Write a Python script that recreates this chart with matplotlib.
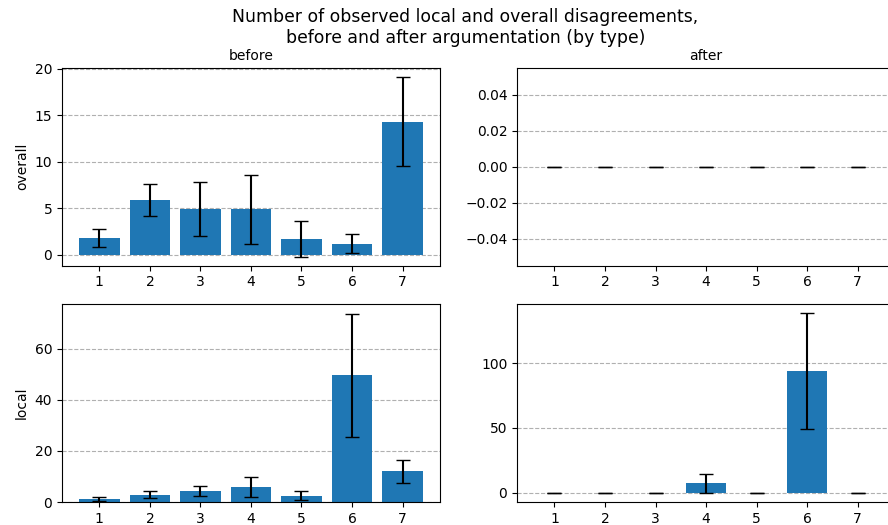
import matplotlib
matplotlib.use("Agg")
import matplotlib.pyplot as plt

types = [1, 2, 3, 4, 5, 6, 7]

overall_before = [1.8, 5.9, 4.9, 4.9, 1.7, 1.2, 14.3]
overall_before_err = [1.0, 1.75, 2.9, 3.7, 1.9, 1.0, 4.8]
overall_after = [0, 0, 0, 0, 0, 0, 0]
overall_after_err = [0, 0, 0, 0, 0, 0, 0]

local_before = [1.0, 2.9, 4.3, 5.9, 2.5, 49.6, 11.95]
local_before_err = [0.8, 1.5, 2.1, 3.9, 1.9, 24.0, 4.55]
local_after = [0, 0, 0, 7.2, 0, 93.8, 0]
local_after_err = [0, 0, 0, 7.5, 0, 44.7, 0]

fig, axes = plt.subplots(2, 2, figsize=(8.88, 5.25), dpi=100)
fig.subplots_adjust(left=0.0698, right=1.0079, top=0.8705, bottom=0.0438,
                    wspace=0.204, hspace=0.197)

panels = [
    (axes[0, 0], overall_before, overall_before_err),
    (axes[0, 1], overall_after, overall_after_err),
    (axes[1, 0], local_before, local_before_err),
    (axes[1, 1], local_after, local_after_err),
]
for ax, vals, errs in panels:
    ax.bar(types, vals, yerr=errs, color="#1f77b4", ecolor="black", capsize=5)
    ax.set_xticks(types)
    ax.yaxis.grid(True, linestyle="--", color="#b0b0b0")
    ax.set_axisbelow(True)

axes[1, 1].set_yticks([0, 50, 100])

axes[0, 0].set_title("before", fontsize=10)
axes[0, 1].set_title("after", fontsize=10)
axes[0, 0].set_ylabel("overall")
axes[1, 0].set_ylabel("local")

fig.suptitle("Number of observed local and overall disagreements,\n"
             "before and after argumentation (by type)",
             x=0.524, y=0.985, va="top", fontsize=12.4)

fig.savefig("out.png")
